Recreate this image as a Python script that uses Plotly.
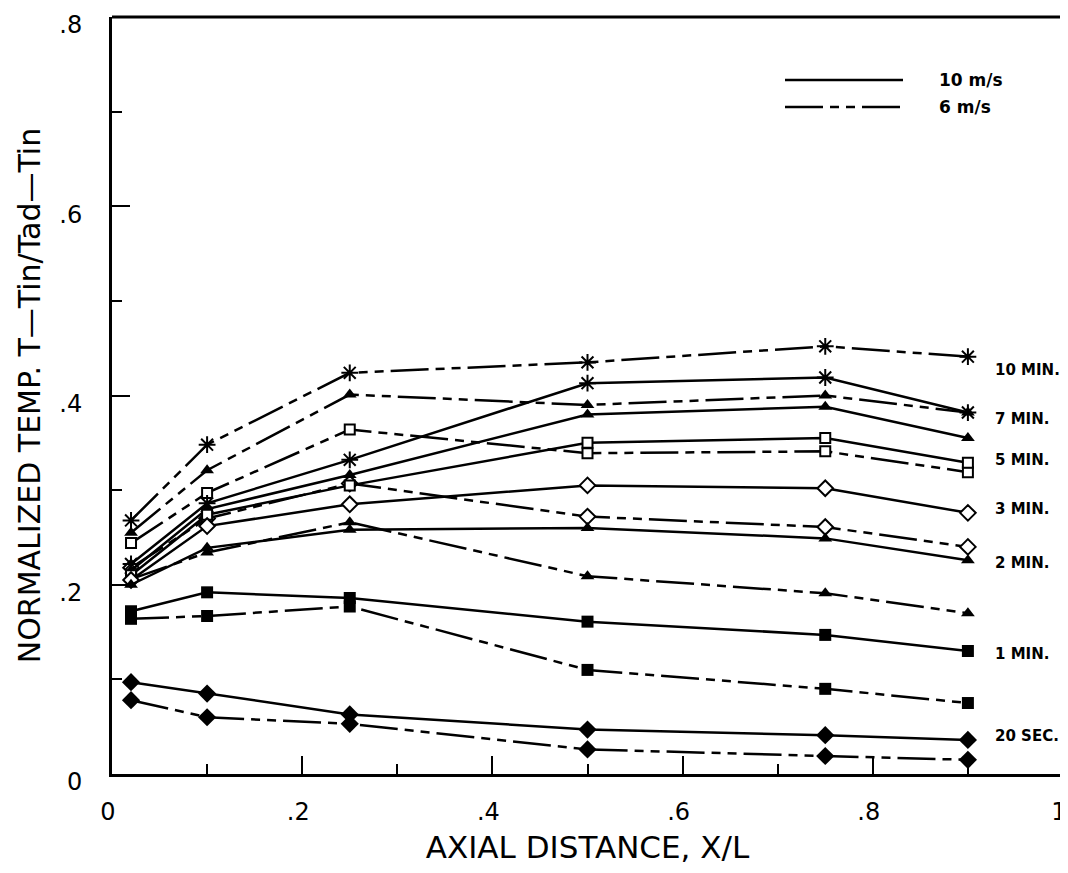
import plotly.graph_objects as go

# ---------------- data ----------------
x_pos = [0.02, 0.1, 0.25, 0.5, 0.75, 0.9]

times = ["10 MIN.", "7 MIN.", "5 MIN.", "3 MIN.", "2 MIN.", "1 MIN.", "20 SEC."]

# 10 m/s (solid lines)
v10_10min = [0.222, 0.286, 0.332, 0.413, 0.419, 0.382]
v10_7min = [0.215, 0.280, 0.316, 0.380, 0.388, 0.355]
v10_5min = [0.210, 0.274, 0.305, 0.350, 0.355, 0.329]
v10_3min = [0.205, 0.262, 0.285, 0.305, 0.302, 0.276]
v10_2min = [0.200, 0.239, 0.258, 0.260, 0.249, 0.226]
v10_1min = [0.172, 0.192, 0.186, 0.161, 0.147, 0.130]
v10_20sec = [0.097, 0.085, 0.063, 0.047, 0.041, 0.036]

# 6 m/s (dash-dot lines)
v6_10min = [0.268, 0.348, 0.424, 0.435, 0.452, 0.441]
v6_7min = [0.255, 0.321, 0.401, 0.390, 0.400, 0.382]
v6_5min = [0.244, 0.297, 0.364, 0.339, 0.341, 0.319]
v6_3min = [0.218, 0.270, 0.307, 0.272, 0.261, 0.240]
v6_2min = [0.206, 0.234, 0.266, 0.209, 0.191, 0.170]
v6_1min = [0.164, 0.167, 0.177, 0.110, 0.090, 0.075]
v6_20sec = [0.078, 0.060, 0.053, 0.026, 0.019, 0.015]

speeds = ["10 m/s", "6 m/s"]

x_tickvals = [0, 0.2, 0.4, 0.6, 0.8, 1.0]
x_ticktext = ["0", ".2", ".4", ".6", ".8", "1"]
y_tickvals = [0, 0.2, 0.4, 0.6, 0.8]
y_ticktext = ["0", ".2", ".4", ".6", ".8"]

# ---------------- styles ----------------
SOLID = "solid"
DASHDOT = "38px,7px,9px,7px,9px,7px"

marker_styles = {
    "10 MIN.": dict(symbol="asterisk-open", size=14, color="black", line=dict(width=2, color="black")),
    "7 MIN.": dict(symbol="triangle-up", size=12, color="black", line=dict(width=0)),
    "5 MIN.": dict(symbol="square", size=10, color="white", line=dict(width=2, color="black")),
    "3 MIN.": dict(symbol="diamond", size=12, color="white", line=dict(width=2, color="black")),
    "2 MIN.": dict(symbol="triangle-up", size=12, color="black", line=dict(width=0)),
    "1 MIN.": dict(symbol="square", size=12, color="black", line=dict(width=0)),
    "20 SEC.": dict(symbol="diamond", size=14, color="black", line=dict(width=0)),
}

series10 = [v10_10min, v10_7min, v10_5min, v10_3min, v10_2min, v10_1min, v10_20sec]
series6 = [v6_10min, v6_7min, v6_5min, v6_3min, v6_2min, v6_1min, v6_20sec]

fig = go.Figure()
for name, ys in zip(times, series6):
    fig.add_trace(go.Scatter(
        x=x_pos, y=ys, mode="lines+markers", name=f"{name} 6 m/s",
        line=dict(color="black", width=2.5, dash=DASHDOT),
        marker=marker_styles[name], showlegend=False,
    ))
for name, ys in zip(times, series10):
    fig.add_trace(go.Scatter(
        x=x_pos, y=ys, mode="lines+markers", name=f"{name} 10 m/s",
        line=dict(color="black", width=2.5, dash=SOLID),
        marker=marker_styles[name], showlegend=False,
    ))

# page body has an 8px margin; plot area in page: x 112..1063, y 17..774
PLOT_H = 757
PLOT_W = 951

# ---------------- series labels on the right ----------------
label_y_px = [370, 419, 460, 509, 563, 654, 736]
for txt, py in zip(times, label_y_px):
    fig.add_annotation(
        x=0.926, xref="x", y=(774 - py) / PLOT_H, yref="paper",
        text=f"<b>{txt}</b>", showarrow=False, xanchor="left", yanchor="middle",
        font=dict(family="DejaVu Sans", size=15, color="black"),
    )

# ---------------- legend (lines + text) ----------------
leg_x0 = (785 - 112) / PLOT_W
leg_x1 = (903 - 112) / PLOT_W
leg_tx = (937 - 112) / PLOT_W
leg_y = [(774 - 80) / PLOT_H, (774 - 107) / PLOT_H]
for dash, ly, lbl in zip([SOLID, DASHDOT], leg_y, speeds):
    fig.add_shape(type="line", xref="paper", yref="paper",
                  x0=leg_x0, x1=leg_x1, y0=ly, y1=ly,
                  line=dict(color="black", width=2.5, dash=dash))
    fig.add_annotation(x=leg_tx, xref="paper", y=ly, yref="paper",
                       text=f"<b>{lbl}</b>", showarrow=False,
                       xanchor="left", yanchor="middle",
                       font=dict(family="DejaVu Sans", size=17, color="black"))

# frame: top solid, right faint dotted
fig.add_shape(type="line", xref="paper", yref="paper", x0=0, x1=1, y0=1, y1=1,
              line=dict(color="black", width=3))
fig.add_shape(type="line", xref="paper", yref="paper", x0=1, x1=1, y0=0, y1=1,
              line=dict(color="#777777", width=1, dash="dot"))

fig.update_layout(
    width=1060, height=857,
    margin=dict(l=104, r=5, t=9, b=91),
    paper_bgcolor="white", plot_bgcolor="white",
    font=dict(family="DejaVu Sans", color="black"),
)
fig.update_xaxes(
    range=[0, 1], showgrid=False, zeroline=False, automargin=False,
    showline=True, linewidth=3, linecolor="black", mirror=False,
    tickmode="array", tickvals=x_tickvals, ticktext=x_ticktext,
    ticks="inside", ticklen=18, tickwidth=2, tickcolor="black",
    minor=dict(ticks="inside", ticklen=10, tickwidth=2, tickcolor="black", dtick=0.1, showgrid=False),
    tickfont=dict(family="DejaVu Sans", size=24, color="black"),
    ticklabelstandoff=14, ticklabelshift=-4, ticklabeloverflow="allow",
    title=dict(text="AXIAL DISTANCE, X/L", standoff=36,
               font=dict(family="DejaVu Sans", size=31, color="black")),
)
fig.update_yaxes(
    range=[0, 0.8], showgrid=False, zeroline=False, automargin=False,
    showline=True, linewidth=3, linecolor="black", mirror=False,
    tickmode="array", tickvals=y_tickvals, ticktext=y_ticktext,
    ticks="inside", ticklen=18, tickwidth=2, tickcolor="black",
    minor=dict(ticks="inside", ticklen=10, tickwidth=2, tickcolor="black", dtick=0.1, showgrid=False),
    tickfont=dict(family="DejaVu Sans", size=24, color="black"),
    ticklabelstandoff=22, ticklabelshift=8, ticklabeloverflow="allow",
    title=dict(text="NORMALIZED TEMP. T\u2014Tin/Tad\u2014Tin", standoff=10,
               font=dict(family="DejaVu Sans", size=30, color="black")),
)

fig.write_html("out.html")
